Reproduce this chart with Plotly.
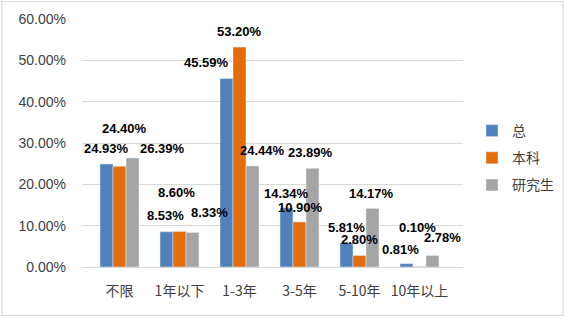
import plotly.graph_objects as go

categories = ["不限", "1年以下", "1-3年", "3-5年", "5-10年", "10年以上"]
series_names = ["总", "本科", "研究生"]
total = [24.93, 8.53, 45.59, 14.34, 5.81, 0.81]
undergrad = [24.40, 8.60, 53.20, 10.90, 2.80, 0.10]
graduate = [26.39, 8.33, 24.44, 23.89, 14.17, 2.78]
colors = ["#4F81BD", "#E46C0A", "#A5A5A5"]

# label placement (y in axis units, x shift in px) mimicking the source layout
label_y = [
    [28.6, 12.4, 49.4, 17.9, 9.6, 4.3],
    [33.4, 18.0, 57.0, 14.5, 6.6, 9.6],
    [28.6, 13.2, 28.3, 27.8, 17.9, 7.1],
]
label_dx = [
    [0, -1, -20, 0, 0, -6],
    [5, -3, 0, 1, 0, -2],
    [30, 17, 10, -2, -1, 10],
]

W, H = 566, 319
ML, MR, MT, MB = 82, 103, 19, 52

fig = go.Figure()
all_vals = [total, undergrad, graduate]
for name, vals, c in zip(series_names, all_vals, colors):
    fig.add_trace(go.Bar(name=name, x=categories, y=vals, marker_color=c,
                         legendgroup=name))

bargap = 0.35
bw = (1 - bargap) / 3
annotations = []
for s, vals in enumerate(all_vals):
    for i, v in enumerate(vals):
        annotations.append(dict(
            x=i + (s - 1) * bw, y=label_y[s][i], xref="x", yref="y",
            text=f"{v:.2f}%", showarrow=False, xshift=label_dx[s][i],
            font=dict(family="Liberation Sans, Noto Sans CJK SC", size=13, color="#000000", weight="bold"),
        ))

pw = W - ML - MR
ph = H - MT - MB
fig.add_shape(type="rect", xref="paper", yref="paper",
              x0=(2 - ML) / pw, x1=(563 - ML) / pw,
              y0=-(315.5 - (MT + ph)) / ph,
              y1=1 + (MT - 1.5) / ph,
              line=dict(color="#D9D9D9", width=1.2), fillcolor="rgba(0,0,0,0)", layer="below")

fig.update_layout(
    width=W, height=H, margin=dict(l=ML, r=MR, t=MT, b=MB, autoexpand=False),
    paper_bgcolor="white", plot_bgcolor="white",
    barmode="group", bargap=bargap, bargroupgap=0,
    font=dict(family="Liberation Sans, Noto Sans CJK SC", size=13, color="#404040"),
    annotations=annotations,
    showlegend=True,
    legend=dict(x=(472 - ML) / pw, xanchor="left", y=(H - MB - 158) / ph, yanchor="middle",
                font=dict(size=14, color="#404040", family="Noto Sans CJK SC"),
                tracegroupgap=6, itemwidth=30, bgcolor="rgba(0,0,0,0)"),
)
fig.update_xaxes(type="category", showgrid=False, showline=True, linecolor="#D9D9D9",
                 linewidth=1.2, ticks="", ticklabelstandoff=11,
                 tickfont=dict(size=14, family="Noto Sans CJK SC", color="#404040"))
fig.update_yaxes(range=[0, 60], dtick=10, tickformat=".2f", ticksuffix="%",
                 showgrid=True, gridcolor="#D9D9D9", gridwidth=1.2, zeroline=False,
                 showline=False, ticks="", ticklabelstandoff=15,
                 tickfont=dict(size=14, color="#404040"))

fig.write_html("out.html", config={"displayModeBar": False},
               post_script="document.body.style.margin='0';")
